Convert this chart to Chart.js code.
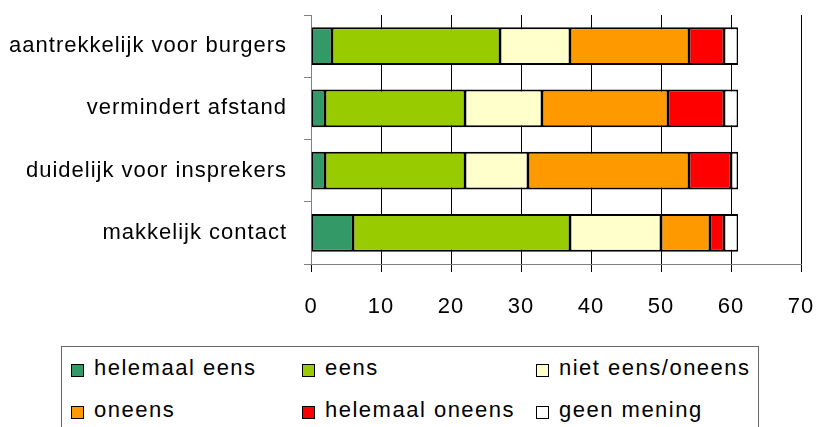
<!DOCTYPE html>
<html>
<head>
<meta charset="utf-8">
<script src="https://cdn.jsdelivr.net/npm/chart.js@4/dist/chart.umd.min.js"></script>
<style>
html,body{margin:0;padding:0;background:#fff;overflow:hidden;width:816px;height:427px;}
#wrap{position:relative;width:816px;height:427px;}
#c{position:absolute;left:0;top:0;}
#legend{position:absolute;left:61px;top:346px;width:698px;height:100px;box-sizing:border-box;border:1px solid #666;
  font-family:"Liberation Sans",Arial,sans-serif;font-size:22px;letter-spacing:1.5px;color:#000;
  display:grid;grid-template-columns:231px 234px auto;grid-auto-rows:42px;padding-left:9px;background:#fff;}
.item{display:flex;align-items:center;white-space:nowrap;}
.sw{width:11px;height:11px;border:1px solid #000;margin-right:10px;margin-top:4px;flex:none;}
</style>
</head>
<body>
<div id="wrap">
<canvas id="c" width="816" height="427"></canvas>
<div id="legend"></div>
</div>
<script>
const categories = ["aantrekkelijk voor burgers", "vermindert afstand", "duidelijk voor insprekers", "makkelijk contact"];
const seriesNames = ["helemaal eens", "eens", "niet eens/oneens", "oneens", "helemaal oneens", "geen mening"];
const seriesColors = ["#339966", "#99CC00", "#FFFFCC", "#FF9900", "#FF0000", "#FFFFFF"];
const helemaalEens   = [3, 2, 2, 6];
const eens           = [24, 20, 20, 31];
const nietEensOneens = [10, 11, 9, 13];
const oneens         = [17, 18, 23, 7];
const helemaalOneens = [5, 8, 6, 2];
const geenMening     = [2, 2, 1, 2];
const xTickValues = [0, 10, 20, 30, 40, 50, 60, 70];

const seriesValues = [helemaalEens, eens, nietEensOneens, oneens, helemaalOneens, geenMening];
const FONT = '"Liberation Sans", Arial, sans-serif';

const datasets = seriesNames.map((name, i) => ({
  label: name,
  data: seriesValues[i],
  backgroundColor: seriesColors[i],
  borderColor: '#000',
  borderWidth: {top: 2, bottom: 2, left: 1.5, right: 1.5},
  borderSkipped: false,
  inflateAmount: 0,
  barPercentage: 0.61,
  categoryPercentage: 1.0
}));

const spacingPlugin = {
  id: 'spacing',
  beforeDraw(chart) { chart.ctx.letterSpacing = '1px'; }
};

new Chart(document.getElementById('c'), {
  type: 'bar',
  data: {labels: categories, datasets},
  plugins: [spacingPlugin],
  options: {
    indexAxis: 'y',
    responsive: false,
    animation: false,
    devicePixelRatio: 1,
    layout: {padding: {top: 15, right: 15, left: 0, bottom: 0}},
    plugins: {legend: {display: false}, tooltip: {enabled: false}},
    scales: {
      x: {
        stacked: true,
        min: xTickValues[0],
        max: xTickValues[xTickValues.length - 1],
        ticks: {stepSize: xTickValues[1] - xTickValues[0], color: '#000', font: {family: FONT, size: 22}, padding: 22, maxRotation: 0},
        grid: {color: '#000', lineWidth: 1, tickLength: 8, tickColor: '#000', drawTicks: true},
        border: {color: '#808080', width: 1},
        afterFit(s) { s.height = 163; s.paddingLeft = 0; s.paddingRight = 0; }
      },
      y: {
        stacked: true,
        ticks: {color: '#000', font: {family: FONT, size: 22}, padding: 17},
        grid: {drawOnChartArea: false, offset: true, tickLength: 7, tickColor: '#808080', drawTicks: true},
        border: {color: '#808080', width: 1},
        afterFit(s) { s.width = 311; s.paddingTop = 0; s.paddingBottom = 0; }
      }
    }
  }
});

const leg = document.getElementById('legend');
seriesNames.forEach((name, i) => {
  const it = document.createElement('div');
  it.className = 'item';
  const sw = document.createElement('span');
  sw.className = 'sw';
  sw.style.background = seriesColors[i];
  const tx = document.createElement('span');
  tx.textContent = name;
  it.appendChild(sw);
  it.appendChild(tx);
  leg.appendChild(it);
});
</script>
</body>
</html>
